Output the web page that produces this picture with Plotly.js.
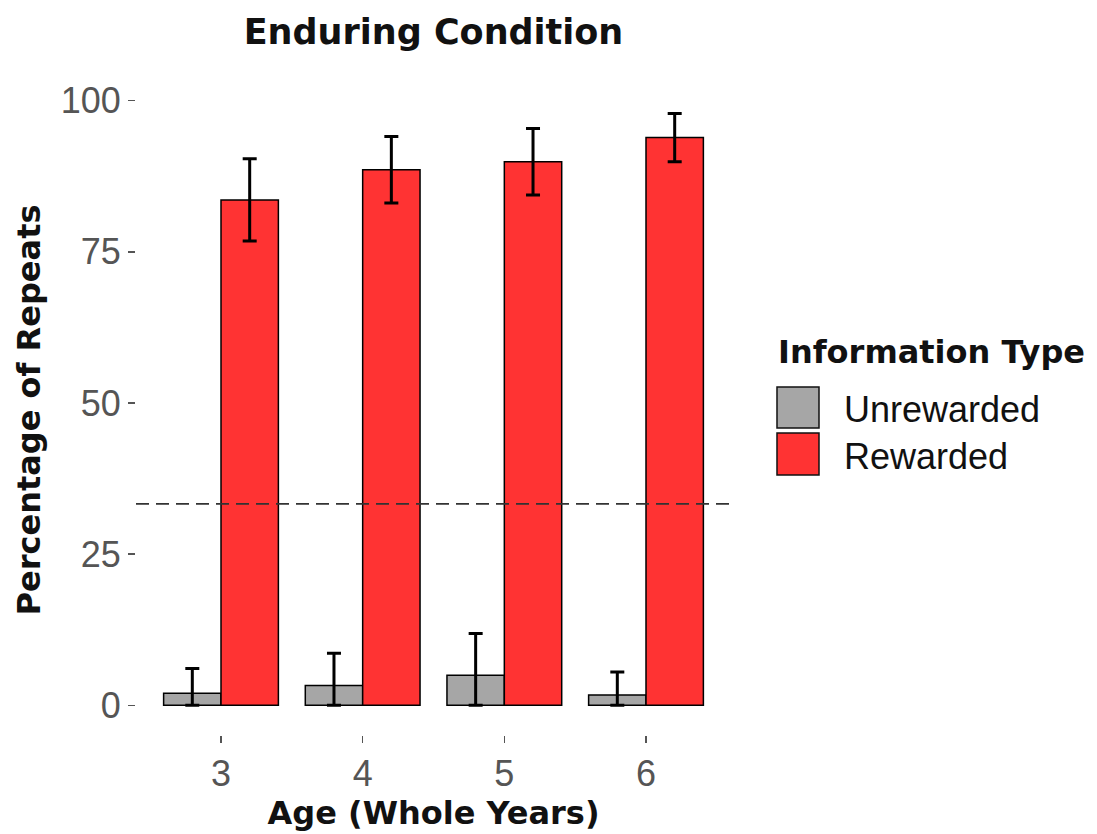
<!DOCTYPE html>
<html>
<head>
<meta charset="utf-8">
<script src="https://cdn.plot.ly/plotly-3.0.1.min.js"></script>
<style>html,body{margin:0;padding:0;background:#fff;}#chart{width:1097px;height:834px;}</style>
</head>
<body>
<div id="chart"></div>
<script>
// ---- data ----
const ages = ['3', '4', '5', '6'];
const unrewarded = [2.0, 3.3, 5.0, 1.7];
const unrewardedErr = [4.1, 5.3, 6.9, 3.8];
const rewarded = [83.6, 88.6, 89.9, 93.9];
const rewardedErr = [6.8, 5.5, 5.5, 4.0];
const chanceLevel = 33.33;
const seriesNames = ['Unrewarded', 'Rewarded'];
const yTicks = [0, 25, 50, 75, 100];

const greyFill = '#A6A6A6';
const redFill = '#FF3333';
const boldFont = 'DejaVu Sans, Liberation Sans, Arial, sans-serif';
const regFont = 'Liberation Sans, Arial, sans-serif';

const errStyle = {type: 'data', visible: true, color: '#000', thickness: 3, width: 7};

const traces = [
  {
    type: 'bar', name: seriesNames[0], x: ages, y: unrewarded,
    marker: {color: greyFill, line: {color: '#000', width: 1.5}},
    error_y: Object.assign({}, errStyle, {symmetric: false, array: unrewardedErr,
      arrayminus: unrewarded.map((v, i) => Math.min(v, unrewardedErr[i]))}),
    showlegend: false, hoverinfo: 'x+y'
  },
  {
    type: 'bar', name: seriesNames[1], x: ages, y: rewarded,
    marker: {color: redFill, line: {color: '#000', width: 1.5}},
    error_y: Object.assign({}, errStyle, {array: rewardedErr}),
    showlegend: false, hoverinfo: 'x+y'
  }
];

// manual legend geometry (paper coordinates)
const legX0 = 1.0773, legX1 = 1.1479, legLabelX = 1.1866;
const legendRows = [
  {y0: 0.4723, y1: 0.5354, yc: 0.5015, color: greyFill, text: seriesNames[0]},
  {y0: 0.4000, y1: 0.4646, yc: 0.4292, color: redFill, text: seriesNames[1]}
];

const shapes = [
  {type: 'line', xref: 'paper', x0: 0, x1: 1, yref: 'y', y0: chanceLevel, y1: chanceLevel,
   line: {color: '#333', width: 1.6, dash: '13px,7px'}, layer: 'above'}
].concat(legendRows.map(r => ({
  type: 'rect', xref: 'paper', yref: 'paper', x0: legX0, x1: legX1, y0: r.y0, y1: r.y1,
  fillcolor: r.color, line: {color: '#111', width: 1.5}
})));

const annotations = [
  {xref: 'paper', yref: 'paper', x: legX0 - 0.002, y: 0.589, xanchor: 'left', yanchor: 'middle',
   text: 'Information Type', showarrow: false, font: {family: boldFont, size: 32, weight: 'bold', color: '#111'}}
].concat(legendRows.map(r => ({
  xref: 'paper', yref: 'paper', x: legLabelX, y: r.yc, xanchor: 'left', yanchor: 'middle',
  text: r.text, showarrow: false, font: {family: regFont, size: 36, color: '#111'}
})));

const layout = {
  width: 1097, height: 834,
  margin: {l: 136, r: 366, t: 85, b: 99},
  paper_bgcolor: '#fff', plot_bgcolor: '#fff',
  barmode: 'group', bargap: 0.19, bargroupgap: 0,
  title: {text: 'Enduring Condition', x: 0.5, xref: 'paper', y: 1 - 32 / 834, yref: 'container',
          xanchor: 'center', yanchor: 'middle', font: {family: boldFont, size: 35, weight: 'bold', color: '#111'}},
  xaxis: {
    type: 'category', range: [-0.6, 3.6], showgrid: false, zeroline: false, showline: false,
    ticks: 'outside', ticklen: 7, tickwidth: 1.5, tickcolor: '#555',
    tickfont: {family: regFont, size: 36, color: '#555'},
    title: {text: 'Age (Whole Years)', standoff: 6, font: {family: boldFont, size: 32, weight: 'bold', color: '#111'}}
  },
  yaxis: {
    range: [-4.9, 102.6], tickvals: yTicks, ticktext: yTicks.map(String),
    showgrid: false, zeroline: false, showline: false,
    ticks: 'outside', ticklen: 7, tickwidth: 1.5, tickcolor: '#555',
    tickfont: {family: regFont, size: 36, color: '#555'},
    title: {text: 'Percentage of Repeats', standoff: 10, font: {family: boldFont, size: 32, weight: 'bold', color: '#111'}}
  },
  shapes: shapes,
  annotations: annotations
};

Plotly.newPlot('chart', traces, layout, {staticPlot: true, displayModeBar: false});
</script>
</body>
</html>
